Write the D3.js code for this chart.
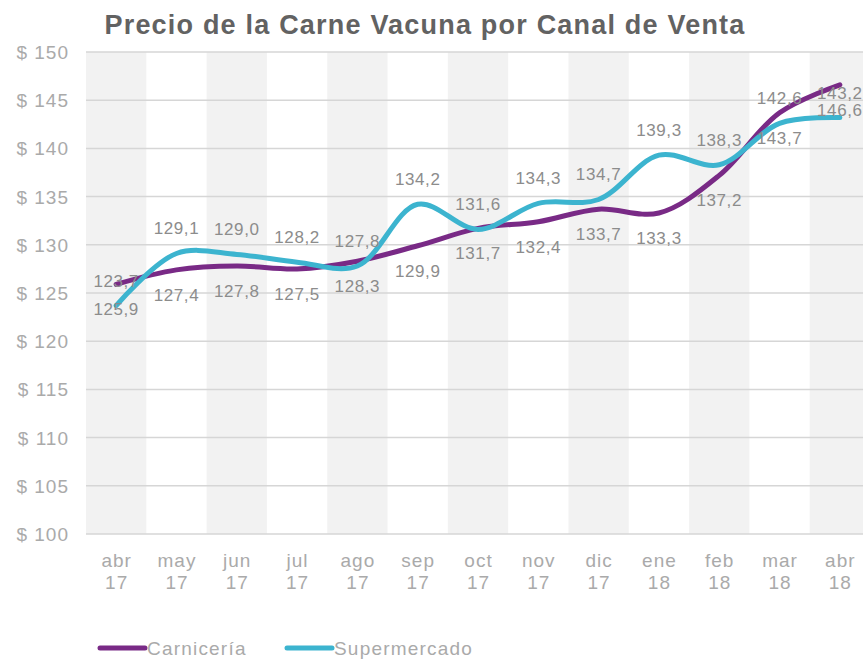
<!DOCTYPE html>
<html>
<head>
<meta charset="utf-8">
<script src="https://cdn.jsdelivr.net/npm/d3@7"></script>
<style>
  body { margin: 0; background: #fff; }
  svg { display: block; font-family: "Liberation Sans", Arial, sans-serif; }
</style>
</head>
<body>
<svg id="chart" width="863" height="660"></svg>
<script>
var months = ["abr", "may", "jun", "jul", "ago", "sep", "oct", "nov", "dic", "ene", "feb", "mar", "abr"]
var years = ["17", "17", "17", "17", "17", "17", "17", "17", "17", "18", "18", "18", "18"]

var carniceria = [125.9, 127.4, 127.8, 127.5, 128.3, 129.9, 131.7, 132.4, 133.7, 133.3, 137.2, 143.7, 146.6]
var supermercado = [123.7, 129.1, 129.0, 128.2, 127.8, 134.2, 131.6, 134.3, 134.7, 139.3, 138.3, 142.6, 143.2]

var yTicks = [100, 105, 110, 115, 120, 125, 130, 135, 140, 145, 150]

var series = [
  {name: "Carnicería", values: carniceria, colour: "#792a86", labelOffset: 25},
  {name: "Supermercado", values: supermercado, colour: "#3cb4cf", labelOffset: -25}
]

var svg = d3.select("#chart")

var idx = d3.range(months.length)

var x = d3.scaleBand()
  .domain(idx)
  .range([86, 870])
  .padding(0)

var y = d3.scaleLinear()
  .domain([100, 150])
  .range([534, 52])

var fmt = function(v){ return v.toFixed(1).replace(".", ",") }

// alternating column bands
svg.append("g")
  .selectAll("rect")
  .data(idx.filter(function(i){ return i % 2 == 0 }))
  .enter()
  .append("rect")
  .attr("x", function(i){ return x(i) })
  .attr("y", y(150))
  .attr("width", x.bandwidth())
  .attr("height", y(100) - y(150))
  .attr("fill", "#f2f2f2")

// gridlines
svg.append("g")
  .selectAll("line")
  .data(yTicks)
  .enter()
  .append("line")
  .attr("x1", 86)
  .attr("x2", 870)
  .attr("y1", function(d){ return y(d) })
  .attr("y2", function(d){ return y(d) })
  .attr("stroke", "#d6d6d6")
  .attr("stroke-width", 1.5)

// y labels
svg.append("g")
  .selectAll("text")
  .data(yTicks)
  .enter()
  .append("text")
  .attr("x", 69)
  .attr("y", function(d){ return y(d) + 7 })
  .attr("text-anchor", "end")
  .attr("font-size", 19)
  .attr("letter-spacing", 1)
  .attr("fill", "#aaaaaa")
  .text(function(d){ return "$ " + d })

// x labels
var xl = svg.append("g")
  .selectAll("text")
  .data(idx)
  .enter()
  .append("text")
  .attr("text-anchor", "middle")
  .attr("font-size", 19)
  .attr("letter-spacing", 1)
  .attr("fill", "#aaaaaa")

xl.append("tspan")
  .attr("x", function(i){ return x(i) + x.bandwidth()/2 + 0.5 })
  .attr("y", 567)
  .text(function(i){ return months[i] })

xl.append("tspan")
  .attr("x", function(i){ return x(i) + x.bandwidth()/2 + 0.5 })
  .attr("y", 589)
  .text(function(i){ return years[i] })

// lines
var line = d3.line()
  .x(function(d, i){ return x(i) + x.bandwidth()/2 })
  .y(function(d){ return y(d) })
  .curve(d3.curveCatmullRom.alpha(0.5))

svg.append("g")
  .selectAll("path")
  .data(series)
  .enter()
  .append("path")
  .attr("d", function(s){ return line(s.values) })
  .attr("fill", "none")
  .attr("stroke", function(s){ return s.colour })
  .attr("stroke-width", 5)
  .attr("stroke-linecap", "round")

// data labels
series.forEach(function(s){
  svg.append("g")
    .selectAll("text")
    .data(s.values)
    .enter()
    .append("text")
    .attr("x", function(d, i){ return x(i) + x.bandwidth()/2 })
    .attr("y", function(d){ return y(d) + s.labelOffset + 6 })
    .attr("text-anchor", "middle")
    .attr("font-size", 17)
    .attr("letter-spacing", 0.6)
    .attr("fill", "#8c8c8c")
    .text(fmt)
})

// title
svg.append("text")
  .attr("x", 425)
  .attr("y", 34)
  .attr("text-anchor", "middle")
  .attr("font-size", 27)
  .attr("font-weight", "bold")
  .attr("letter-spacing", 1.2)
  .attr("fill", "#626262")
  .text("Precio de la Carne Vacuna por Canal de Venta")

// legend
var legendX = [100, 287]
var lg = svg.append("g")
  .selectAll("g")
  .data(series)
  .enter()
  .append("g")
  .attr("transform", function(s, i){ return "translate(" + legendX[i] + ",648)" })

lg.append("line")
  .attr("x1", 0)
  .attr("x2", 45)
  .attr("stroke", function(s){ return s.colour })
  .attr("stroke-width", 5)
  .attr("stroke-linecap", "round")

lg.append("text")
  .attr("x", 47)
  .attr("y", 7)
  .attr("font-size", 19)
  .attr("letter-spacing", 1.2)
  .attr("fill", "#aaaaaa")
  .text(function(s){ return s.name })
</script>
</body>
</html>
